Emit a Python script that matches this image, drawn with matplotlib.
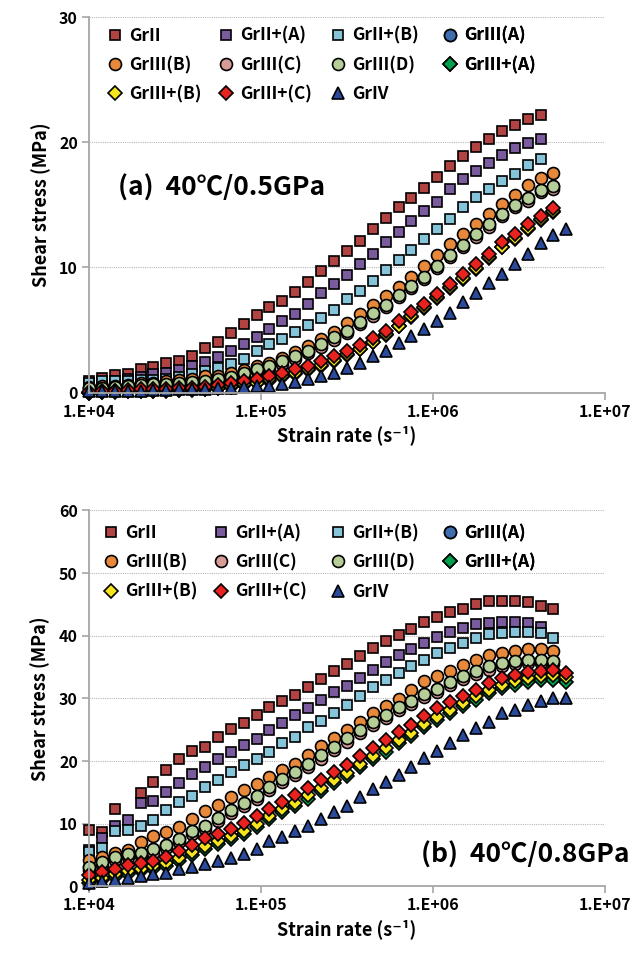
import numpy as np
import matplotlib
matplotlib.use("Agg")
import matplotlib.pyplot as plt

plt.rcParams['font.family'] = ['Noto Sans CJK KR', 'DejaVu Sans']
plt.rcParams['font.weight'] = 'bold'

nan = np.nan

# strain rate grid (s-1)
rate = [1.00e4, 1.19e4, 1.41e4, 1.68e4, 2.00e4, 2.37e4, 2.82e4, 3.35e4, 3.98e4, 4.73e4,
        5.62e4, 6.68e4, 7.94e4, 9.44e4, 1.12e5, 1.33e5, 1.58e5, 1.88e5, 2.24e5, 2.66e5,
        3.16e5, 3.76e5, 4.47e5, 5.31e5, 6.31e5, 7.50e5, 8.91e5, 1.06e6, 1.26e6, 1.50e6,
        1.78e6, 2.11e6, 2.51e6, 2.99e6, 3.55e6, 4.22e6, 5.01e6, 5.96e6]

labels = ['GrII', 'GrII+(A)', 'GrII+(B)', 'GrIII(A)', 'GrIII(B)', 'GrIII(C)',
          'GrIII(D)', 'GrIII+(A)', 'GrIII+(B)', 'GrIII+(C)', 'GrIV']

xtick_vals = [1e4, 1e5, 1e6, 1e7]
xtick_text = ['1.E+04', '1.E+05', '1.E+06', '1.E+07']

# (a) 40C / 0.5 GPa, shear stress in MPa
a_grII = [0.9, 1.2, 1.4, 1.5, 1.85, 2.05, 2.35, 2.55, 2.95, 3.55, 4.05, 4.75, 5.5, 6.2, 6.8, 7.3,
          8.0, 8.8, 9.75, 10.55, 11.35, 12.15, 13.05, 13.95, 14.8, 15.55, 16.35, 17.25, 18.15,
          18.9, 19.65, 20.25, 20.9, 21.4, 21.85, 22.2]
a_grII_A = [0.6, 0.85, 0.95, 1.05, 1.25, 1.45, 1.6, 1.8, 2.15, 2.46, 2.86, 3.35, 3.85, 4.45, 5.1,
            5.7, 6.3, 7.05, 7.95, 8.65, 9.4, 10.25, 11.1, 12.0, 12.85, 13.7, 14.5, 15.25, 16.25,
            17.05, 17.7, 18.35, 19.0, 19.55, 19.95, 20.3]
a_grII_B = [0.8, 0.9, 0.9, 0.94, 0.97, 1.0, 1.1, 1.28, 1.45, 1.7, 1.95, 2.25, 2.65, 3.35, 3.85,
            4.3, 4.85, 5.4, 5.95, 6.6, 7.45, 8.1, 8.95, 9.8, 10.6, 11.4, 12.28, 13.05, 13.87,
            14.8, 15.65, 16.3, 16.9, 17.5, 18.2, 18.7]
a_grIII_A = [0.35, 0.4, 0.45, 0.5, 0.6, 0.65, 0.7, 0.75, 0.85, 0.9, 1.05, 1.25, 1.55, 1.9, 2.15,
             2.5, 2.9, 3.35, 3.85, 4.4, 4.95, 5.65, 6.35, 7.0, 7.8, 8.55, 9.25, 10.15, 11.0,
             11.8, 12.65, 13.45, 14.3, 15.0, 15.55, 16.2, 16.5]
a_grIII_B = [0.45, 0.5, 0.55, 0.6, 0.8, 0.8, 0.9, 1.0, 1.1, 1.3, 1.35, 1.55, 1.8, 2.1, 2.4, 2.8,
             3.2, 3.7, 4.25, 4.8, 5.52, 6.28, 7.0, 7.68, 8.4, 9.25, 10.1, 11.0, 11.85, 12.7,
             13.45, 14.25, 15.1, 15.8, 16.6, 17.15, 17.55]
a_grIII_C = [0.2, 0.25, 0.3, 0.35, 0.45, 0.5, 0.55, 0.6, 0.7, 0.75, 0.85, 1.05, 1.35, 1.7, 1.95,
             2.3, 2.7, 3.15, 3.65, 4.2, 4.75, 5.45, 6.15, 6.8, 7.6, 8.35, 9.05, 9.95, 10.8,
             11.6, 12.45, 13.25, 14.1, 14.8, 15.35, 16.0, 16.3]
a_grIII_D = [0.35, 0.4, 0.45, 0.5, 0.6, 0.65, 0.7, 0.75, 0.85, 0.9, 1.05, 1.25, 1.55, 1.9, 2.15,
             2.5, 2.9, 3.35, 3.85, 4.4, 4.95, 5.65, 6.35, 7.0, 7.8, 8.55, 9.25, 10.15, 11.0,
             11.8, 12.65, 13.45, 14.3, 15.0, 15.55, 16.2, 16.5]
a_grIIIp_A = [0.0, 0.05, 0.05, 0.1, 0.1, 0.15, 0.15, 0.2, 0.2, 0.25, 0.35, 0.45, 0.6, 0.75,
              0.95, 1.25, 1.5, 1.8, 2.15, 2.55, 3.0, 3.45, 4.0, 4.6, 5.3, 6.0, 6.75, 7.55, 8.35,
              9.1, 9.9, 10.75, 11.6, 12.3, 13.1, 13.8, 14.45]
a_grIIIp_B = [0.0, 0.05, 0.1, 0.1, 0.15, 0.15, 0.2, 0.2, 0.25, 0.3, 0.4, 0.5, 0.7, 0.8, 1.05,
              1.3, 1.55, 1.85, 2.2, 2.6, 3.05, 3.5, 4.05, 4.65, 5.35, 6.1, 6.8, 7.6, 8.4, 9.15,
              9.95, 10.8, 11.65, 12.35, 13.15, 13.85, 14.5]
a_grIIIp_C = [0.05, 0.1, 0.15, 0.2, 0.25, 0.25, 0.3, 0.35, 0.4, 0.45, 0.6, 0.75, 0.95, 1.05, 1.3,
              1.6, 1.85, 2.15, 2.5, 2.9, 3.35, 3.8, 4.35, 4.95, 5.7, 6.45, 7.1, 7.9, 8.7, 9.45,
              10.3, 11.1, 12.0, 12.65, 13.45, 14.15, 14.75]
a_grIV = [0.1, 0.1, 0.1, 0.15, 0.15, 0.2, 0.2, 0.25, 0.3, 0.3, 0.35, 0.4, 0.45, 0.5, 0.55, 0.65,
          0.85, 1.1, 1.35, 1.6, 1.95, 2.4, 2.9, 3.35, 3.95, 4.5, 5.1, 5.75, 6.35, 7.2, 7.95,
          8.75, 9.5, 10.3, 11.1, 11.95, 12.6, 13.05]

# (b) 40C / 0.8 GPa
b_grII = [9.0, 8.7, 12.4, nan, 14.9, 16.7, 18.5, 20.3, 21.6, 22.3, 23.8, 25.1, 26.1, 27.3, 28.6,
          29.6, 30.6, 31.8, 33.1, 34.3, 35.5, 36.7, 38.0, 39.1, 40.1, 41.1, 42.2, 43.0, 43.8,
          44.3, 45.1, 45.5, 45.5, 45.6, 45.3, 44.8, 44.2]
b_grII_A = [5.8, 7.7, 9.6, 10.6, 13.3, 13.7, 15.1, 16.5, 17.9, 19.1, 20.3, 21.4, 22.5, 23.5,
            24.9, 26.1, 27.3, 28.5, 29.8, 31.0, 32.0, 33.3, 34.5, 35.8, 36.9, 37.9, 38.9, 39.8,
            40.6, 41.3, 41.9, 42.1, 42.2, 42.2, 42.0, 41.4]
b_grII_B = [5.5, 6.1, 8.8, 9.0, 9.6, 10.6, 12.2, 13.5, 14.4, 15.8, 17.0, 18.3, 19.4, 20.4, 21.5,
            22.8, 23.9, 25.4, 26.4, 27.7, 28.9, 30.3, 31.8, 33.0, 34.1, 35.2, 36.2, 37.3, 38.1,
            38.9, 39.7, 40.2, 40.5, 40.6, 40.6, 40.4, 39.7]
b_grIII_A = [3.1, 3.9, 4.7, 5.2, 5.4, 5.9, 6.6, 7.6, 8.8, 9.7, 10.9, 12.2, 13.3, 14.4, 15.9,
             17.2, 18.3, 19.6, 20.9, 22.3, 23.6, 25.0, 26.3, 27.3, 28.6, 29.6, 30.7, 31.5, 32.6,
             33.6, 34.4, 35.1, 35.6, 36.0, 36.2, 36.1, 36.0]
b_grIII_B = [4.2, 4.7, 5.3, 5.8, 7.0, 8.0, 8.6, 9.5, 10.7, 12.0, 13.0, 14.3, 15.4, 16.3, 17.4,
             18.5, 19.5, 20.9, 22.4, 23.7, 24.9, 26.3, 27.6, 28.8, 29.9, 31.4, 32.7, 33.6, 34.4,
             35.3, 36.1, 36.9, 37.3, 37.6, 37.9, 37.9, 37.6]
b_grIII_C = [2.6, 3.4, 4.2, 4.7, 4.9, 5.4, 6.1, 7.1, 8.3, 9.2, 10.4, 11.7, 12.8, 13.9, 15.4,
             16.7, 17.8, 19.1, 20.4, 21.8, 23.1, 24.5, 25.8, 26.8, 28.1, 29.1, 30.2, 31.0, 32.1,
             33.1, 33.9, 34.6, 35.1, 35.5, 35.7, 35.6, 35.5]
b_grIII_D = [3.1, 3.9, 4.7, 5.2, 5.4, 5.9, 6.6, 7.6, 8.8, 9.7, 10.9, 12.2, 13.3, 14.4, 15.9,
             17.2, 18.3, 19.6, 20.9, 22.3, 23.6, 25.0, 26.3, 27.3, 28.6, 29.6, 30.7, 31.5, 32.6,
             33.6, 34.4, 35.1, 35.6, 36.0, 36.2, 36.1, 36.0]
b_grIIIp_A = [0.6, 1.0, 1.5, 2.0, 2.4, 2.8, 3.2, 4.0, 5.0, 5.9, 6.7, 7.5, 8.4, 9.5, 10.7, 11.8,
              12.8, 14.0, 15.2, 16.5, 17.6, 19.0, 20.3, 21.5, 22.8, 24.0, 25.4, 26.6, 27.7,
              28.8, 29.8, 30.8, 31.6, 32.2, 32.6, 32.9, 33.0, 32.6]
b_grIIIp_B = [1.0, 1.4, 1.9, 2.4, 2.8, 3.2, 3.7, 4.5, 5.5, 6.4, 7.2, 8.0, 8.9, 10.0, 11.2, 12.3,
              13.3, 14.5, 15.7, 17.0, 18.1, 19.5, 20.8, 22.0, 23.3, 24.5, 25.9, 27.1, 28.2,
              29.3, 30.3, 31.3, 32.2, 32.8, 33.3, 33.6, 33.7, 33.4]
b_grIIIp_C = [1.8, 2.3, 2.8, 3.4, 3.7, 4.0, 4.7, 5.6, 6.6, 7.7, 8.4, 9.2, 10.1, 11.2, 12.4, 13.5,
              14.5, 15.7, 16.9, 18.2, 19.3, 20.8, 22.1, 23.3, 24.6, 25.8, 27.2, 28.4, 29.4,
              30.4, 31.4, 32.4, 33.2, 33.8, 34.2, 34.4, 34.5, 34.1]
b_grIV = [0.6, 0.8, 1.0, 1.3, 1.6, 1.9, 2.1, 2.7, 3.1, 3.6, 4.0, 4.5, 5.2, 6.0, 7.3, 7.9, 8.9,
          9.7, 10.7, 11.8, 12.9, 14.2, 15.5, 16.6, 17.8, 19.1, 20.5, 21.6, 22.8, 24.1, 25.3,
          26.2, 27.6, 28.2, 28.9, 29.6, 30.0, 30.0]

# marker, face colour, size for each series
styles = [('s', '#B24343', 7.2), ('s', '#7A5C9E', 7.2), ('s', '#86C4DA', 7.2),
          ('o', '#3E6EAE', 8.6), ('o', '#E8883A', 8.6), ('o', '#D89B98', 8.6),
          ('o', '#B5CD96', 8.6), ('D', '#00A04E', 6.9), ('D', '#F4E51E', 6.9),
          ('D', '#E8231F', 6.9), ('^', '#2A4A9C', 9.0)]


def panel(ax, series, ymax, note, note_xy, note_ha, col_x, leg_top):
    handles = []
    for y, lab, (m, c, ms) in zip(series, labels, styles):
        x = rate[:len(y)]
        h, = ax.plot(x, y, linestyle='none', marker=m, markersize=ms,
                     markerfacecolor=c, markeredgecolor='black',
                     markeredgewidth=1.2, label=lab, clip_on=False)
        handles.append(h)

    ax.set_xscale('log')
    ax.set_xlim(1e4, 1e7)
    ax.set_xticks(xtick_vals)
    ax.set_xticklabels(xtick_text)
    ax.minorticks_off()
    ax.set_ylim(0, ymax)
    ax.set_yticks(np.arange(0, ymax + 1, 10))
    ax.yaxis.grid(True, color='#B8B8B8', linestyle=(0, (1, 1)), linewidth=0.8)
    ax.set_axisbelow(True)
    for s in ['top', 'right']:
        ax.spines[s].set_visible(False)
    for s in ['left', 'bottom']:
        ax.spines[s].set_color('#A6A6A6')
        ax.spines[s].set_linewidth(1.3)
    ax.tick_params(axis='both', direction='out', length=5, width=1.2,
                   color='#A6A6A6', labelsize=11.5, pad=3)
    for t in ax.get_xticklabels() + ax.get_yticklabels():
        t.set_fontweight('bold')

    ax.set_xlabel('Strain rate (s⁻¹)', fontsize=13, fontweight='bold', labelpad=4)
    ax.set_ylabel('Shear stress (MPa)', fontsize=13, fontweight='bold', labelpad=6)

    # legend laid out row by row: one single-column legend per column
    for c in range(4):
        idx = list(range(c, len(labels), 4))
        leg = ax.legend([handles[i] for i in idx], [labels[i] for i in idx],
                        loc='upper left', bbox_to_anchor=(col_x[c], leg_top),
                        frameon=False, borderpad=0, borderaxespad=0,
                        handlelength=1.0, handletextpad=0.3, labelspacing=0.65,
                        prop={'weight': 'bold', 'size': 12.5})
        ax.add_artist(leg)

    ax.text(note_xy[0], note_xy[1], note, transform=ax.transAxes, ha=note_ha,
            va='center', fontsize=19, fontweight='bold')


def main():
    fig = plt.figure(figsize=(6.44, 9.63), dpi=100)
    ax1 = fig.add_axes([0.1382, 0.5924, 0.8012, 0.3896])
    ax2 = fig.add_axes([0.1382, 0.0796, 0.8012, 0.3904])

    panel(ax1, [a_grII, a_grII_A, a_grII_B, a_grIII_A, a_grIII_B, a_grIII_C, a_grIII_D,
                a_grIIIp_A, a_grIIIp_B, a_grIIIp_C, a_grIV],
          30, '(a)  40℃/0.5GPa', (0.056, 0.545), 'left',
          [0.0335, 0.2486, 0.4657, 0.6828], 0.975)
    panel(ax2, [b_grII, b_grII_A, b_grII_B, b_grIII_A, b_grIII_B, b_grIII_C, b_grIII_D,
                b_grIIIp_A, b_grIIIp_B, b_grIIIp_C, b_grIV],
          60, '(b)  40℃/0.8GPa', (1.048, 0.083), 'right',
          [0.0258, 0.239, 0.4657, 0.6828], 0.9633)

    fig.savefig('out.png', dpi=100)


if __name__ == "__main__":
    main()
